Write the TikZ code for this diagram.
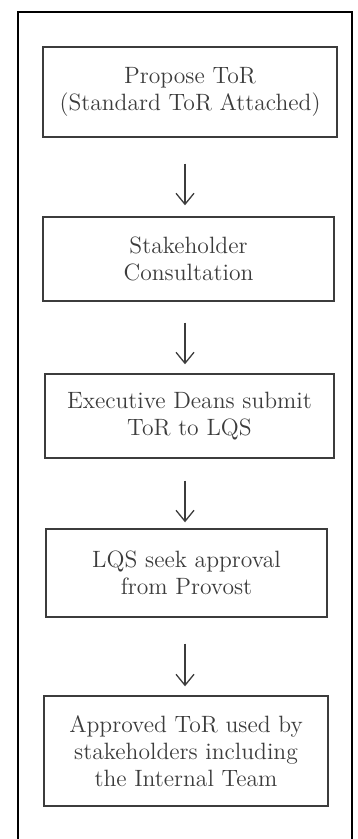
\documentclass[tikz,border=0pt]{standalone}
\usetikzlibrary{arrows.meta}
\definecolor{inkgray}{HTML}{3C3C3C}
\begin{document}
\begin{tikzpicture}[x=.5pt,y=-.5pt,
  stage/.style={draw=inkgray,line width=.7pt,text=inkgray,inner sep=0pt,align=center,font=\fontsize{11.8}{13.5}\selectfont},
  flow/.style={draw=inkgray,line width=.65pt,-{Straight Barb[length=5.5pt,width=9pt,line width=.65pt]}}]
\path[use as bounding box] (0,0) rectangle (358,839);
\clip (0,0) rectangle (358,839);
\draw[line width=1pt] (18,12) rectangle (352,860);
\coordinate (spine) at (185,0);
\node[stage,minimum width=147pt,minimum height=45pt] (propose) at (190,92) {Propose ToR\\(Standard ToR Attached)};
\node[stage,minimum width=145.5pt,minimum height=42pt] (consult) at (188.5,259) {Stakeholder\\Consultation};
\node[stage,minimum width=144.5pt,minimum height=42pt] (submit) at (189.5,416) {Executive Deans submit\\ToR to LQS};
\node[stage,minimum width=140.5pt,minimum height=44pt] (approval) at (186.5,573) {LQS seek approval\\from Provost};
\node[stage,minimum width=142pt,minimum height=55pt] (used) at (186,751) {Approved ToR used by\\stakeholders including\\the Internal Team};
\draw[flow,shorten <=13pt,shorten >=5.5pt] (propose.south -| spine) -- (consult.north -| spine);
\draw[flow,shorten <=10.5pt,shorten >=4.5pt] (consult.south -| spine) -- (submit.north -| spine);
\draw[flow,shorten <=11pt,shorten >=3pt] (submit.south -| spine) -- (approval.north -| spine);
\draw[flow,shorten <=13pt,shorten >=4.5pt] (approval.south -| spine) -- (used.north -| spine);
\end{tikzpicture}
\end{document}
